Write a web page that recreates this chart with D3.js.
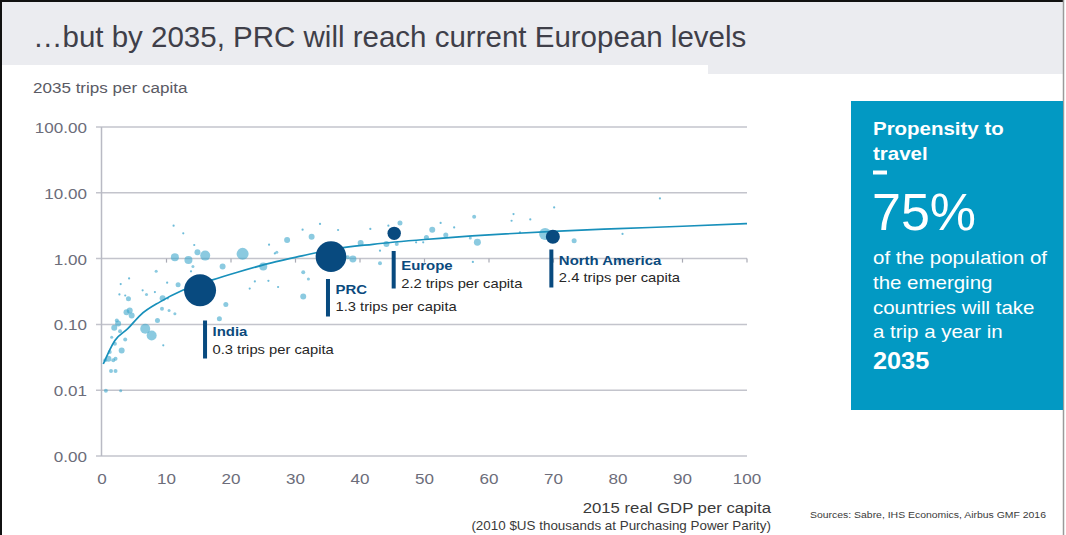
<!DOCTYPE html>
<html><head><meta charset="utf-8">
<script src="https://cdn.jsdelivr.net/npm/d3@7"></script>
<style>
body{margin:0;background:#fff;}
svg{display:block;font-family:"Liberation Sans",Arial,Helvetica,sans-serif;}
</style>
</head><body>
<svg id="c" width="1066" height="535"></svg>
<script>
// ---------- DATA ----------
const titleText = "\u2026but by 2035, PRC will reach current European levels";
const yAxisTitle = "2035 trips per capita";
const xAxisTitle = "2015 real GDP per capita";
const xAxisSubtitle = "(2010 $US thousands at Purchasing Power Parity)";
const sourceText = "Sources: Sabre, IHS Economics, Airbus GMF 2016";

const yTicks = [0.001, 0.01, 0.1, 1, 10, 100];
const yTickLabels = ["0.00", "0.01", "0.10", "1.00", "10.00", "100.00"];
const xTicks = [0, 10, 20, 30, 40, 50, 60, 70, 80, 90, 100];

// other countries: GDP per capita (k$), 2035 trips per capita, population (M, bubble size)
const countryGdp = [11.3,13.4,14.8,16.0,21.8,18.7,25.0,8.4,14.1,13.8,11.8,9.4,9.3,19.2,18.2,11.3,2.9,4.2,6.3,6.9,8.2,10.1,3.6,4.1,2.7,10.4,4.3,3.8,4.6,2.3,2.5,1.9,8.6,6.7,7.7,2.8,1.5,3.6,2.0,3.05,1.2,1.0,1.75,2.1,0.5,1.4,2.1,0.6,2.9,10.2,9.5,22.9,23.7,25.8,26.8,25.9,14.3,12.6,11.1,32.5,28.7,27.1,31.1,33.8,40.1,38.9,38.1,44.1,46.2,45.7,31.2,32.0,31.2,27.3,43.1,43.1,36.6,41.6,44.4,50.3,49.8,51.2,53.3,48.7,52.5,54.6,57.7,57.1,58.2,63.8,66.4,64.8,70.1,68.7,73.2,57.5,86.5,63.5,80.7];
const countryTrips = [1.05,0.955,1.25,1.11,1.18,0.76,0.76,0.64,0.76,0.64,0.40,0.25,0.173,0.20,0.122,0.145,0.41,0.50,0.33,0.285,0.31,0.43,0.275,0.245,0.285,0.163,0.163,0.153,0.137,0.115,0.103,0.089,0.115,0.086,0.068,0.079,0.064,0.059,0.051,0.040,0.038,0.030,0.0285,0.030,0.0285,0.0196,0.0196,0.0098,0.0098,0.248,0.048,0.35,0.45,0.46,1.20,1.63,1.61,2.42,3.16,2.15,1.92,1.25,2.75,3.36,1.73,0.99,1.05,1.67,3.48,1.67,0.62,0.49,0.266,0.37,0.85,1.32,2.72,2.82,3.16,2.10,1.77,2.75,2.29,1.77,3.48,2.98,4.33,2.06,1.77,4.75,3.94,2.50,5.99,2.37,1.87,0.89,8.2,3.76,2.37];
const countryPop = [97,97,54,151,218,54,97,14,14,6,38,54,24,38,38,14,6,6,6,14,6,6,6,38,6,14,54,54,54,24,54,54,38,151,151,24,14,24,24,54,24,54,24,24,24,24,24,24,14,6,3,3,3,3,3,3,3,3,3,54,54,14,3,3,54,74,24,54,38,24,24,14,54,3,24,6,3,3,3,38,6,54,38,6,3,3,24,14,74,3,3,3,3,218,38,3,3,3,3];

// highlighted regions
const highlightNames = ["India", "PRC", "Europe", "North America"];
const highlightNotes = ["0.3 trips per capita", "1.3 trips per capita", "2.2 trips per capita", "2.4 trips per capita"];
const highlightGdp = [15.2, 35.5, 45.3, 69.9];
const highlightTrips = [0.33, 1.07, 2.42, 2.15];
const highlightPop = [1550, 1420, 272, 296];

// trend curve
const trendGdp = [0.2, 2, 4, 6, 9, 12.5, 17, 21, 27, 31, 36, 42, 50, 60, 70, 80, 90, 100];
const trendTrips = [0.025, 0.057, 0.086, 0.14, 0.22, 0.33, 0.47, 0.62, 0.9, 1.1, 1.4, 1.65, 1.95, 2.3, 2.6, 2.85, 3.1, 3.4];

// side panel
const panelTitle = ["Propensity to", "travel"];
const panelValue = "75%";
const panelBody = ["of the population of", "the emerging", "countries will take", "a trip a year in"];
const panelYear = "2035";

// ---------- DRAW ----------
const svg = d3.select("#c");
const SX = 1.1; // source text is slightly wide

function txt(x, y, s, o = {}) {
  return svg.append("text")
    .attr("transform", `translate(${x},${y}) scale(${o.sx ?? SX},1)`)
    .attr("text-anchor", o.anchor || "start")
    .attr("font-size", o.size || 14)
    .attr("font-weight", o.weight || "normal")
    .attr("fill", o.fill || "#333")
    .text(s);
}

// header band
svg.append("rect").attr("x", 0).attr("y", 0).attr("width", 1064).attr("height", 65).attr("fill", "#ebecf0");
svg.append("rect").attr("x", 708).attr("y", 65).attr("width", 356).attr("height", 9).attr("fill", "#ebecf0");
// frame
svg.append("line").attr("x1", 0).attr("x2", 1063).attr("y1", 1).attr("y2", 1).attr("stroke", "#111").attr("stroke-width", 2);
svg.append("line").attr("x1", 1).attr("x2", 1).attr("y1", 0).attr("y2", 535).attr("stroke", "#111").attr("stroke-width", 2);
svg.append("line").attr("x1", 1063.5).attr("x2", 1063.5).attr("y1", 0).attr("y2", 535).attr("stroke", "#9a9a9a").attr("stroke-width", 1.5);

txt(33, 47, titleText, {size: 29.5, fill: "#3f3f49", sx: 1});
txt(33, 93, yAxisTitle, {size: 15.5, fill: "#5a5a64"});

const x = d3.scaleLinear().domain([0, 100]).range([102, 747]);
const y = d3.scaleLog().domain([0.001, 100]).range([456, 127]);
const r = d3.scaleSqrt().domain([0, 1550]).range([0, 16]);

// gridlines
svg.append("g").selectAll("line").data(yTicks).join("line")
  .attr("x1", 96).attr("x2", x(100))
  .attr("y1", d => y(d)).attr("y2", d => y(d))
  .attr("stroke", "#c3c4cc").attr("stroke-width", 1.5);
// vertical axis
svg.append("line").attr("x1", x(0) - 0.5).attr("x2", x(0) - 0.5).attr("y1", y(100)).attr("y2", y(0.001))
  .attr("stroke", "#b9bac4").attr("stroke-width", 1.5);
// x tick marks on the 1.00 line (axis crossing)
svg.append("g").selectAll("line").data(xTicks.slice(1)).join("line")
  .attr("x1", d => x(d)).attr("x2", d => x(d))
  .attr("y1", y(1)).attr("y2", y(1) + 4)
  .attr("stroke", "#a9aab4").attr("stroke-width", 1.2);

// y labels
yTicks.forEach((t, i) => txt(87, y(t) + 6, yTickLabels[i], {size: 15.5, anchor: "end", fill: "#6c6d7a"}));
// x labels
xTicks.forEach(t => txt(x(t), 484, String(t), {size: 15.5, anchor: "middle", fill: "#6c6d7a"}));

txt(771, 513, xAxisTitle, {size: 15.2, anchor: "end", fill: "#3a3a3a"});
txt(771, 530, xAxisSubtitle, {size: 12.2, anchor: "end", fill: "#3a3a3a"});
txt(810, 518, sourceText, {size: 9.5, fill: "#3a3a3a"});

// country bubbles
const countries = countryGdp.map((g, i) => ({g, t: countryTrips[i], p: countryPop[i]}));
svg.append("g").selectAll("circle").data(countries).join("circle")
  .attr("cx", d => x(d.g)).attr("cy", d => y(d.t)).attr("r", d => Math.max(1.1, r(d.p)))
  .attr("fill", "#3ea6cc").attr("fill-opacity", d => d.p < 10 ? 0.75 : 0.6);

// trend
const trend = trendGdp.map((g, i) => [g, trendTrips[i]]);
svg.append("path").datum(trend)
  .attr("d", d3.line().x(d => x(d[0])).y(d => y(d[1])).curve(d3.curveMonotoneX))
  .attr("fill", "none").attr("stroke", "#1890bb").attr("stroke-width", 1.7);

// highlighted bubbles
const hl = highlightNames.map((n, i) => ({n, note: highlightNotes[i], g: highlightGdp[i], t: highlightTrips[i], p: highlightPop[i]}));
svg.append("g").selectAll("circle").data(hl).join("circle")
  .attr("cx", d => x(d.g)).attr("cy", d => y(d.t)).attr("r", d => r(d.p))
  .attr("fill", "#084a7f");

// annotations (layout per label)
const annLayout = {
  "India": {dx: 5, top: 320.5, bottom: 358.5, t1: 335.5, t2: 354},
  "PRC": {dx: -3, top: 279, bottom: 316.5, t1: 293.5, t2: 311},
  "Europe": {dx: -0.5, top: 251, bottom: 288.5, t1: 270, t2: 287.5},
  "North America": {dx: -1.5, top: 249.5, bottom: 287.5, t1: 264.5, t2: 282}
};
hl.forEach(d => {
  const L = annLayout[d.n];
  const bx = x(d.g) + L.dx;
  svg.append("rect").attr("x", bx - 2).attr("y", L.top).attr("width", 4).attr("height", L.bottom - L.top).attr("fill", "#084a7f");
  txt(bx + 7.5, L.t1, d.n, {size: 13.6, weight: "bold", fill: "#0b4a7d"});
  txt(bx + 7.5, L.t2, d.note, {size: 13.4, fill: "#262626"});
});

// side panel
svg.append("rect").attr("x", 851).attr("y", 101).attr("width", 212).attr("height", 309).attr("fill", "#0299c3");
txt(873, 135, panelTitle[0], {size: 18.6, weight: "bold", fill: "#fff"});
txt(873, 159.5, panelTitle[1], {size: 18.6, weight: "bold", fill: "#fff"});
svg.append("rect").attr("x", 873).attr("y", 170.5).attr("width", 14).attr("height", 4).attr("fill", "#fff");
txt(872, 229.5, panelValue, {size: 51, fill: "#fff", sx: 1.02});
panelBody.forEach((s, i) => txt(873, 264 + i * 24.8, s, {size: 18.6, fill: "#fff"}));
txt(873, 368.5, panelYear, {size: 23, weight: "bold", fill: "#fff"});
</script>
</body></html>
